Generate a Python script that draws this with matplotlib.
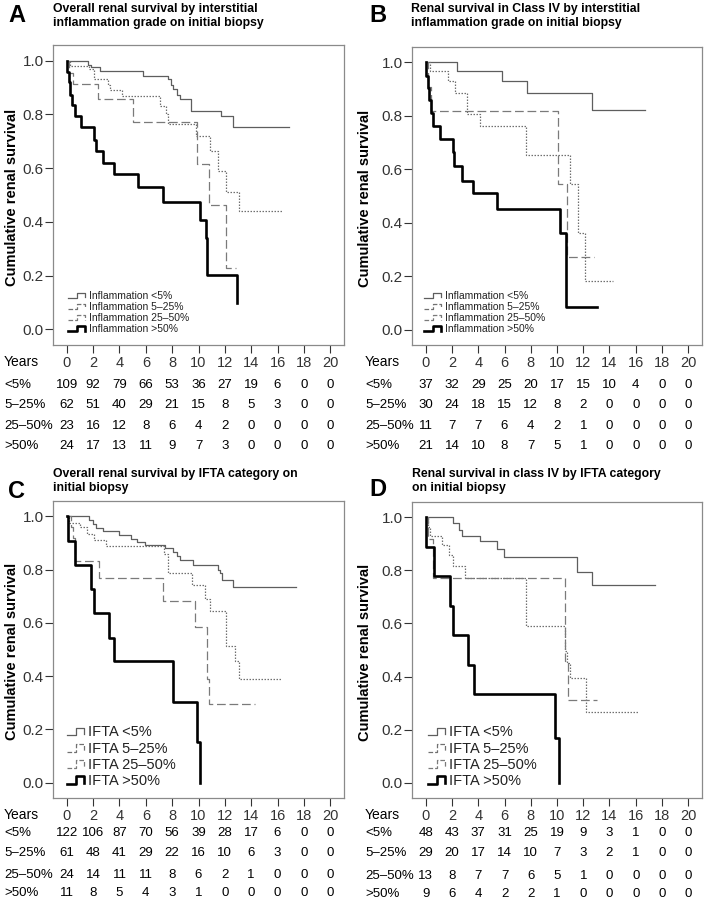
import matplotlib
matplotlib.use('Agg')
import matplotlib.pyplot as plt
from matplotlib.lines import Line2D
from matplotlib.legend_handler import HandlerBase
from matplotlib.transforms import blended_transform_factory

plt.rcParams['font.family'] = ['Liberation Sans', 'DejaVu Sans']

W, H = 705, 902

years = [0, 2, 4, 6, 8, 10, 12, 14, 16, 18, 20]
group_labels = ['<5%', '5–25%', '25–50%', '>50%']

# ---- Panel A: overall, interstitial inflammation ----
a_lt5_t = [0, 1.6, 1.8, 2.5, 5.8, 7.7, 7.9, 8.1, 8.35, 8.6, 9.45, 11.7, 12.6]
a_lt5_s = [1.0, 0.985, 0.975, 0.96, 0.944, 0.93, 0.91, 0.894, 0.873, 0.858, 0.814, 0.793, 0.753]
a_lt5_end = 16.9
a_5_25_t = [0, 0.25, 1.7, 2.1, 3.1, 3.25, 4.2, 7.05, 7.5, 7.65, 9.8, 10.9, 11.5, 12.1, 13.1]
a_5_25_s = [1.0, 0.981, 0.97, 0.932, 0.91, 0.89, 0.867, 0.832, 0.8, 0.765, 0.718, 0.662, 0.588, 0.513, 0.441]
a_5_25_end = 16.4
a_25_50_t = [0, 0.2, 0.45, 2.4, 5.0, 9.85, 10.8, 12.1]
a_25_50_s = [1.0, 0.955, 0.913, 0.857, 0.77, 0.616, 0.461, 0.229]
a_25_50_end = 12.85
a_gt50_t = [0, 0.03, 0.15, 0.25, 0.4, 0.6, 1.05, 2.05, 2.2, 2.75, 3.6, 5.4, 7.3, 10.1, 10.55, 10.67, 12.95]
a_gt50_s = [1.0, 0.958, 0.92, 0.873, 0.836, 0.793, 0.753, 0.706, 0.662, 0.619, 0.579, 0.528, 0.473, 0.407, 0.339, 0.204, 0.1]
a_gt50_end = 12.95
a_risk_lt5 = [109, 92, 79, 66, 53, 36, 27, 19, 6, 0, 0]
a_risk_5_25 = [62, 51, 40, 29, 21, 15, 8, 5, 3, 0, 0]
a_risk_25_50 = [23, 16, 12, 8, 6, 4, 2, 0, 0, 0, 0]
a_risk_gt50 = [24, 17, 13, 11, 9, 7, 3, 0, 0, 0, 0]

# ---- Panel B: class IV, interstitial inflammation ----
b_lt5_t = [0, 2.4, 5.8, 7.75, 12.7]
b_lt5_s = [1.0, 0.969, 0.93, 0.884, 0.821]
b_lt5_end = 16.7
b_5_25_t = [0, 0.3, 1.7, 2.25, 3.15, 4.15, 7.6, 11.0, 11.6, 12.15]
b_5_25_s = [1.0, 0.967, 0.93, 0.884, 0.806, 0.763, 0.653, 0.546, 0.363, 0.18]
b_5_25_end = 14.25
b_25_50_t = [0, 0.2, 0.38, 10.1, 10.75]
b_25_50_s = [1.0, 0.91, 0.819, 0.545, 0.271]
b_25_50_end = 12.85
b_gt50_t = [0, 0.02, 0.15, 0.25, 0.38, 0.53, 1.1, 2.05, 2.12, 2.75, 3.6, 5.4, 10.2, 10.65]
b_gt50_s = [1.0, 0.95, 0.905, 0.859, 0.809, 0.763, 0.715, 0.665, 0.613, 0.557, 0.51, 0.453, 0.363, 0.086]
b_gt50_end = 13.05
b_risk_lt5 = [37, 32, 29, 25, 20, 17, 15, 10, 4, 0, 0]
b_risk_5_25 = [30, 24, 18, 15, 12, 8, 2, 0, 0, 0, 0]
b_risk_25_50 = [11, 7, 7, 6, 4, 2, 1, 0, 0, 0, 0]
b_risk_gt50 = [21, 14, 10, 8, 7, 5, 1, 0, 0, 0, 0]

# ---- Panel C: overall, IFTA ----
c_lt5_t = [0, 1.7, 1.95, 2.25, 2.75, 4.0, 4.9, 5.3, 5.9, 7.45, 8.1, 8.35, 8.6, 9.6, 11.5, 11.65, 11.75, 12.6]
c_lt5_s = [1.0, 0.985, 0.97, 0.955, 0.944, 0.929, 0.917, 0.904, 0.894, 0.883, 0.867, 0.851, 0.836, 0.817, 0.8, 0.786, 0.761, 0.736]
c_lt5_end = 17.4
c_5_25_t = [0, 0.2, 1.0, 1.5, 2.1, 2.95, 7.4, 7.65, 9.47, 10.48, 10.9, 12.1, 12.8, 13.1]
c_5_25_s = [1.0, 0.975, 0.96, 0.935, 0.91, 0.889, 0.86, 0.786, 0.743, 0.69, 0.643, 0.512, 0.456, 0.388]
c_5_25_end = 16.3
c_25_50_t = [0, 0.3, 0.45, 0.6, 2.45, 7.3, 9.7, 10.65, 10.8]
c_25_50_s = [1.0, 0.96, 0.92, 0.832, 0.77, 0.683, 0.585, 0.39, 0.295]
c_25_50_end = 14.3
c_gt50_t = [0, 0.08, 0.6, 1.8, 2.05, 3.2, 3.6, 8.05, 9.85, 10.1]
c_gt50_s = [1.0, 0.909, 0.818, 0.727, 0.636, 0.545, 0.455, 0.303, 0.152, 0.0]
c_gt50_end = 10.1
c_risk_lt5 = [122, 106, 87, 70, 56, 39, 28, 17, 6, 0, 0]
c_risk_5_25 = [61, 48, 41, 29, 22, 16, 10, 6, 3, 0, 0]
c_risk_25_50 = [24, 14, 11, 11, 8, 6, 2, 1, 0, 0, 0]
c_risk_gt50 = [11, 8, 5, 4, 3, 1, 0, 0, 0, 0, 0]

# ---- Panel D: class IV, IFTA ----
d_lt5_t = [0, 2.1, 2.5, 2.75, 4.15, 5.45, 5.95, 11.55, 12.65]
d_lt5_s = [1.0, 0.977, 0.954, 0.931, 0.91, 0.882, 0.85, 0.794, 0.744]
d_lt5_end = 17.5
d_5_25_t = [0, 0.15, 0.35, 1.2, 1.75, 2.1, 3.0, 7.6, 10.6, 10.75, 11.0, 12.2]
d_5_25_s = [1.0, 0.965, 0.931, 0.894, 0.857, 0.815, 0.772, 0.592, 0.495, 0.45, 0.395, 0.267]
d_5_25_end = 16.2
d_25_50_t = [0, 0.2, 0.55, 10.6, 10.85]
d_25_50_s = [1.0, 0.92, 0.772, 0.46, 0.31]
d_25_50_end = 13.05
d_gt50_t = [0, 0.02, 0.6, 1.85, 2.05, 3.2, 3.65, 9.85, 10.15]
d_gt50_s = [1.0, 0.889, 0.778, 0.667, 0.556, 0.444, 0.333, 0.167, 0.0]
d_gt50_end = 10.15
d_risk_lt5 = [48, 43, 37, 31, 25, 19, 9, 3, 1, 0, 0]
d_risk_5_25 = [29, 20, 17, 14, 10, 7, 3, 2, 1, 0, 0]
d_risk_25_50 = [13, 8, 7, 7, 6, 5, 1, 0, 0, 0, 0]
d_risk_gt50 = [9, 6, 4, 2, 2, 1, 0, 0, 0, 0, 0]

# line styles per group: <5%, 5-25%, 25-50%, >50%
styles = [
    dict(color='#5e5e5e', lw=0.9, ls='-'),
    dict(color='#707070', lw=0.9, ls=(0, (1.2, 1.2))),
    dict(color='#7a7a7a', lw=0.9, ls=(0, (7, 3))),
    dict(color='black', lw=1.9, ls='-'),
]


class StepHandler(HandlerBase):
    # little KM-style step drawn as the legend key
    def create_artists(self, legend, orig_handle, xdescent, ydescent,
                       width, height, fontsize, trans):
        xs = [0, 0.45, 0.45, 0.85, 0.85]
        ys = [0.1, 0.1, 0.85, 0.85, 0.2]
        xs = [x * width - xdescent for x in xs]
        ys = [y * height - ydescent for y in ys]
        line = Line2D(xs, ys, color=orig_handle.get_color(),
                      lw=orig_handle.get_linewidth(),
                      ls=orig_handle.get_linestyle())
        line.set_transform(trans)
        return [line]


def px(x, y):
    return x / W, 1 - y / H


def draw_panel(fig, rect, letter, letter_xy, title, title_xy, curves, risks,
               legend_names, legend_xy, legend_fs, ylabel_x, years_y, risk_ys, label_x):
    left, top, right, bottom = rect
    ax = fig.add_axes([left / W, 1 - bottom / H, (right - left) / W, (bottom - top) / H])
    handles = []
    for (t, s, end), st in zip(curves, styles):
        ln, = ax.step(t + [end], s + [s[-1]], where='post', **st)
        handles.append(ln)
    ax.set_xlim(-1.05, 21.05)
    ax.set_ylim(-0.058, 1.058)
    ax.set_xticks(years)
    ax.set_yticks([0, 0.2, 0.4, 0.6, 0.8, 1.0])
    ax.set_yticklabels(['0.0', '0.2', '0.4', '0.6', '0.8', '1.0'])
    ax.tick_params(axis='y', length=6, width=0.8, pad=0.5, labelsize=11, colors='#333333')
    ax.tick_params(axis='x', length=6, width=0.8, pad=2, labelsize=10.5, colors='#333333')
    for sp in ax.spines.values():
        sp.set_color('#8a8a8a')
        sp.set_linewidth(0.9)

    leg = ax.legend(handles, legend_names, loc='lower left', frameon=False,
                    bbox_to_anchor=px(*legend_xy), bbox_transform=fig.transFigure,
                    borderpad=0, borderaxespad=0, fontsize=legend_fs,
                    handler_map={Line2D: StepHandler()},
                    handlelength=20 * 72 / 100 / legend_fs, handletextpad=0.05,
                    labelspacing=0.1 if legend_fs < 9 else 0.15, handleheight=0.7)
    for txt in leg.get_texts():
        txt.set_color('#222222')

    fig.text(*px(*letter_xy), letter, fontsize=17, fontweight='bold', va='center', ha='left')
    fig.text(*px(*title_xy), title, fontsize=8.8, fontweight='bold', va='top', ha='left',
             linespacing=1.25)
    fig.text(*px(ylabel_x, (top + bottom) / 2 + 2), 'Cumulative renal survival', rotation=90,
             fontsize=10.5, fontweight='bold', va='center', ha='center')

    # number-at-risk table
    trans = blended_transform_factory(ax.transData, fig.transFigure)
    fig.text(*px(label_x, years_y), 'Years', fontsize=10, va='center', ha='left')
    for lab, counts, ry in zip(group_labels, risks, risk_ys):
        fig.text(*px(label_x, ry), lab, fontsize=9.5, va='center', ha='left')
        for yr, n in zip(years, counts):
            ax.text(yr, 1 - ry / H, str(n), transform=trans, fontsize=9.5,
                    va='center', ha='center')
    return ax


fig = plt.figure(figsize=(W / 100, H / 100), dpi=100)

inflam_names = ['Inflammation <5%', 'Inflammation 5–25%', 'Inflammation 25–50%', 'Inflammation >50%']
ifta_names = ['IFTA <5%', 'IFTA 5–25%', 'IFTA 25–50%', 'IFTA >50%']

draw_panel(fig, (53, 45, 344, 345), 'A', (8, 16),
           'Overall renal survival by interstitial\ninflammation grade on initial biopsy', (53, 3),
           [(a_lt5_t, a_lt5_s, a_lt5_end), (a_5_25_t, a_5_25_s, a_5_25_end),
            (a_25_50_t, a_25_50_s, a_25_50_end), (a_gt50_t, a_gt50_s, a_gt50_end)],
           [a_risk_lt5, a_risk_5_25, a_risk_25_50, a_risk_gt50],
           inflam_names, (68, 334), 7.5, 12, 362, [385, 405, 426, 446], 4)

draw_panel(fig, (412, 47, 702, 345), 'B', (369, 15),
           'Renal survival in Class IV by interstitial\ninflammation grade on initial biopsy', (411, 3),
           [(b_lt5_t, b_lt5_s, b_lt5_end), (b_5_25_t, b_5_25_s, b_5_25_end),
            (b_25_50_t, b_25_50_s, b_25_50_end), (b_gt50_t, b_gt50_s, b_gt50_end)],
           [b_risk_lt5, b_risk_5_25, b_risk_25_50, b_risk_gt50],
           inflam_names, (424, 334), 7.5, 365, 362, [385, 405, 426, 446], 365)

draw_panel(fig, (53, 501, 344, 798), 'C', (8, 492),
           'Overall renal survival by IFTA category on\ninitial biopsy', (53, 468),
           [(c_lt5_t, c_lt5_s, c_lt5_end), (c_5_25_t, c_5_25_s, c_5_25_end),
            (c_25_50_t, c_25_50_s, c_25_50_end), (c_gt50_t, c_gt50_s, c_gt50_end)],
           [c_risk_lt5, c_risk_5_25, c_risk_25_50, c_risk_gt50],
           ifta_names, (67, 788), 10.5, 12, 815, [833, 853, 875, 893], 4)

draw_panel(fig, (412, 502, 702, 798), 'D', (369, 490),
           'Renal survival in class IV by IFTA category\non initial biopsy', (412, 468),
           [(d_lt5_t, d_lt5_s, d_lt5_end), (d_5_25_t, d_5_25_s, d_5_25_end),
            (d_25_50_t, d_25_50_s, d_25_50_end), (d_gt50_t, d_gt50_s, d_gt50_end)],
           [d_risk_lt5, d_risk_5_25, d_risk_25_50, d_risk_gt50],
           ifta_names, (428, 788), 10.5, 365, 815, [833, 853, 876, 894], 365)

fig.savefig('out.png', dpi=100)
